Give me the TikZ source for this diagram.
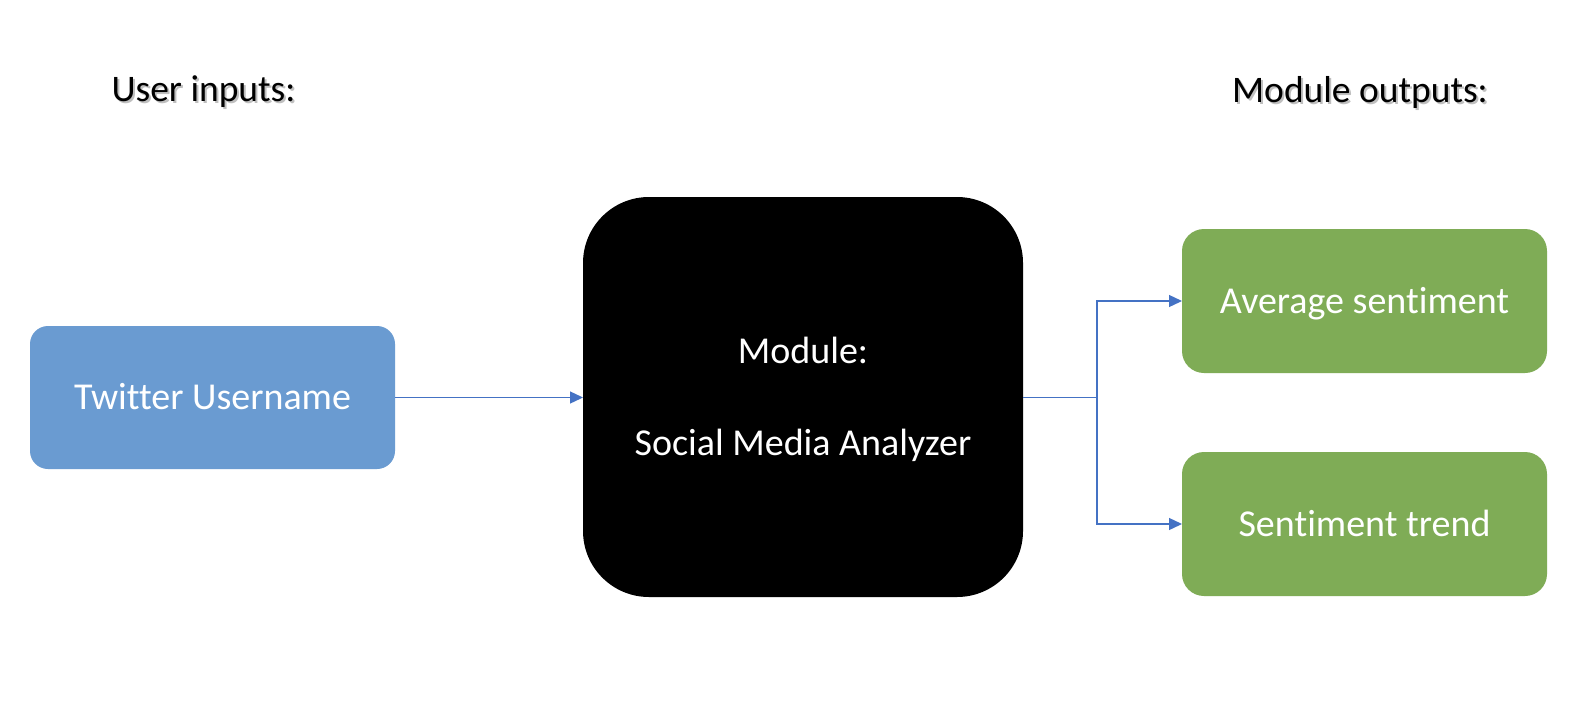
\documentclass[tikz,border=0pt]{standalone}
\usepackage{fontspec}
\setmainfont{Carlito}[Ligatures=NoCommon]
\usetikzlibrary{arrows.meta}
\definecolor{inblue}{HTML}{6A9BD1}
\definecolor{outgreen}{HTML}{7FAC56}
\definecolor{linkblue}{HTML}{4472C4}
\begin{document}
\begin{tikzpicture}[x=1pt,y=-1pt,
  boxtext/.style={text=white,font=\fontsize{38}{44}\selectfont,inner sep=0pt,outer sep=0pt,text height=24.5pt,text depth=0pt},
  inbox/.style={boxtext,fill=inblue,rounded corners=18pt,minimum width=365pt,minimum height=143pt},
  outbox/.style={boxtext,fill=outgreen,rounded corners=22pt,minimum width=365pt,minimum height=144pt},
  modbox/.style={fill=black,rounded corners=66pt,minimum width=440pt,minimum height=400pt,inner sep=0pt,outer sep=0pt},
  modtext/.style={text=white,font=\fontsize{38}{44}\selectfont,inner sep=0pt,anchor=base},
  heading/.style={font=\fontsize{37.5}{44}\selectfont,inner sep=0pt,anchor=base},
  shadowtext/.style={heading,text=black!25,xshift=2pt,yshift=-2pt},
  link/.style={draw=linkblue,line width=1.3pt,-{Triangle[length=13pt,width=12pt]}},
  plainlink/.style={draw=linkblue,line width=1.3pt}
]
\useasboundingbox (0,0) rectangle (1594,704);
\fill[white] (0,0) rectangle (1594,704);
\node[shadowtext] at (203.5,101) {User inputs:};
\node[heading] (hin) at (203.5,101) {User inputs:};
\node[shadowtext] at (1360,102) {Module outputs:};
\node[heading] (hout) at (1360,102) {Module outputs:};
\node[inbox] (tw) at (212.5,397.5) {Twitter Username};
\node[modbox] (mod) at (803,397) {};
\node[modtext] (modl1) at (803,363) {Module:};
\node[modtext] (modl2) at (803,455) {Social Media Analyzer};
\node[outbox] (avg) at (1364.5,301) {Average sentiment};
\node[outbox] (trend) at (1364.5,524) {Sentiment trend};
\coordinate (fork) at (1097,397.5);
\draw[link] (tw.east |- 0,397.5) -- (mod.west |- 0,397.5);
\draw[plainlink] (mod.east |- fork) -- (fork);
\draw[link] (fork) |- (avg.west);
\draw[link] (fork) |- (trend.west);
\end{tikzpicture}
\end{document}
